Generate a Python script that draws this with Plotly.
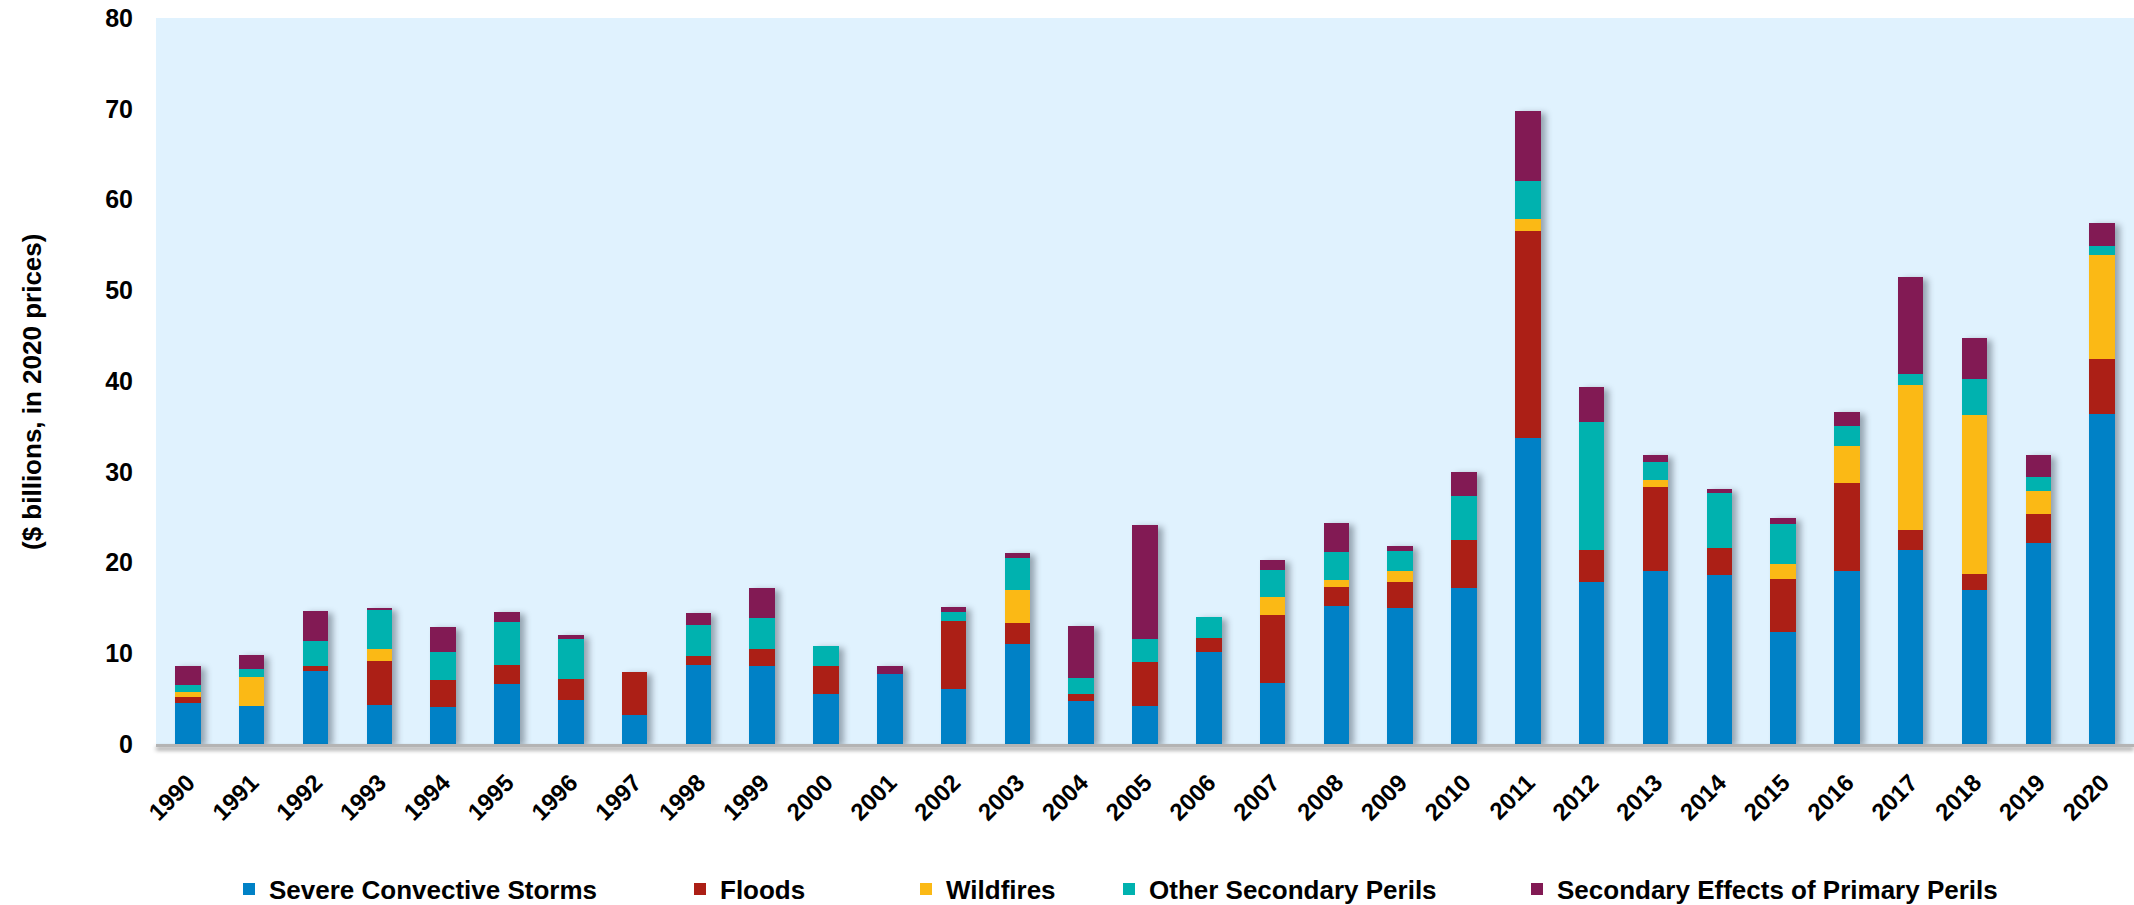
import plotly.graph_objects as go

# Annual insured losses from secondary perils, $ billions (2020 prices)
years = [str(y) for y in range(1990, 2021)]

severe_convective_storms = [4.5, 4.2, 8.05, 4.3, 4.05, 6.6, 4.8, 3.2, 8.7, 8.65, 5.5, 7.7, 6.05, 11.0, 4.75, 4.15,
                            10.1, 6.75, 15.2, 15.0, 17.2, 33.75, 17.8, 19.1, 18.65, 12.3, 19.05, 21.35, 16.95, 22.15, 36.35]
floods = [0.7, 0.0, 0.6, 4.8, 3.0, 2.1, 2.4, 4.75, 1.05, 1.85, 3.1, 0.0, 7.5, 2.3, 0.8, 4.9,
          1.55, 7.5, 2.05, 2.8, 5.25, 22.75, 3.55, 9.2, 3.0, 5.9, 9.7, 2.2, 1.75, 3.25, 6.05]
wildfires = [0.5, 3.2, 0.0, 1.35, 0.0, 0.0, 0.0, 0.0, 0.0, 0.0, 0.0, 0.0, 0.0, 3.65, 0.0, 0.0,
             0.0, 1.95, 0.8, 1.3, 0.0, 1.4, 0.0, 0.75, 0.0, 1.6, 4.1, 16.05, 17.55, 2.5, 11.5]
other_secondary = [0.8, 0.85, 2.7, 4.35, 3.1, 4.7, 4.35, 0.0, 3.4, 3.4, 2.2, 0.0, 1.0, 3.5, 1.7, 2.55,
                   2.35, 2.95, 3.1, 2.15, 4.9, 4.15, 14.1, 2.05, 6.0, 4.45, 2.2, 1.2, 3.95, 1.5, 0.95]
secondary_effects = [2.1, 1.55, 3.35, 0.22, 2.75, 1.2, 0.45, 0.0, 1.25, 3.3, 0.0, 0.9, 0.6, 0.6, 5.7, 12.55,
                     0.0, 1.15, 3.2, 0.6, 2.65, 7.7, 3.85, 0.8, 0.45, 0.65, 1.55, 10.65, 4.55, 2.45, 2.6]

series_names = ["Severe Convective Storms", "Floods", "Wildfires",
                "Other Secondary Perils", "Secondary Effects of Primary Perils"]
series_values = [severe_convective_storms, floods, wildfires, other_secondary, secondary_effects]
series_colors = ["#0081C6", "#AC1F16", "#FBB915", "#00B2AF", "#821A54"]

y_tick_values = list(range(0, 81, 10))
y_title = "($ billions, in 2020 prices)"

# left edge of each legend entry's text, in page pixels
legend_text_px = [269, 720, 946, 1149, 1557]

W, H = 2134, 905
ML, MR, MT, MB = 156, 0, 18, 161
plot_w = W - ML - MR
plot_h = H - MT - MB

FONT = "Liberation Sans, Arial, sans-serif"

fig = go.Figure()
legend_layouts = {}
for i, (name, vals, col) in enumerate(zip(series_names, series_values, series_colors)):
    lname = "legend" if i == 0 else f"legend{i + 1}"
    fig.add_trace(go.Bar(
        x=years, y=vals, name=name, marker=dict(color=col, line=dict(width=0)),
        legend=lname, hoverinfo="x+y+name",
    ))
    legend_layouts[lname] = dict(
        x=(legend_text_px[i] - 40 - ML) / plot_w, xanchor="left",
        y=-(889 - (H - MB)) / plot_h, yanchor="middle",
        orientation="h", bgcolor="rgba(0,0,0,0)", borderwidth=0,
        font=dict(family=FONT, size=26, color="black", weight="bold"),
    )

fig.update_layout(
    width=W, height=H,
    margin=dict(l=ML, r=MR, t=MT, b=MB, pad=0, autoexpand=False),
    barmode="stack", bargap=0.6,
    paper_bgcolor="white", plot_bgcolor="#E0F2FE",
    showlegend=True,
    font=dict(family=FONT, color="black"),
    **legend_layouts,
)

fig.update_xaxes(
    type="category", tickangle=-45, showgrid=False, zeroline=False,
    showline=True, linecolor="#B4B4B4", linewidth=3,
    ticks="", ticklabelstandoff=12,
    tickfont=dict(family=FONT, size=24, color="black", weight="bold"),
)
fig.update_yaxes(
    range=[0, 80], tickvals=y_tick_values, showgrid=False, zeroline=False,
    showline=False, ticks="", ticklabelstandoff=22,
    tickfont=dict(family=FONT, size=25, color="black", weight="bold"),
)

# vertical axis title
fig.add_annotation(
    text=y_title, textangle=-90, showarrow=False,
    xref="paper", yref="paper",
    x=(32 - ML) / plot_w, xanchor="center",
    y=((H - MB) - 392) / plot_h, yanchor="middle",
    font=dict(family=FONT, size=26, color="black", weight="bold"),
)

# soft drop shadows under the bars and the baseline
shadow_js = """
var gd = document.getElementById('{plot_id}');
function addShadows() {
  gd.querySelectorAll('.barlayer').forEach(function (g) {
    g.style.filter = 'drop-shadow(5px 2px 3px rgba(60,70,85,0.45))';
  });
  gd.querySelectorAll('path.xlines-above, path.xlines-below').forEach(function (p) {
    p.style.filter = 'drop-shadow(0px 3px 2px rgba(0,0,0,0.45))';
  });
}
addShadows();
gd.on('plotly_afterplot', addShadows);
"""

fig.write_html("out.html", post_script=shadow_js, config={"displayModeBar": False})
